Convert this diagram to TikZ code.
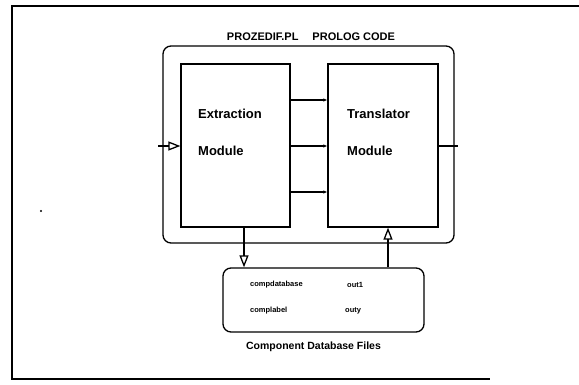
\documentclass[tikz,border=0pt]{standalone}
\usepackage{fontspec}
\setmainfont{Liberation Sans}
\usetikzlibrary{arrows.meta}
\tikzset{
  ln/.style={line width=1.3pt, black},
  box/.style={ln, draw, rectangle, inner sep=0pt},
  rbox/.style={box, rounded corners=8pt},
  lbl/.style={font=\bfseries\fontsize{13}{14}\selectfont, anchor=west, inner sep=0pt},
  small/.style={font=\bfseries\fontsize{7.5}{8}\selectfont, anchor=west, inner sep=0pt},
  arr/.style={ln, -{Latex[length=4pt,width=3.5pt]}},
  openarr/.style={ln, -{Triangle[open,length=12pt,width=9pt]}}
}
\begin{document}
\begin{tikzpicture}[x=1pt,y=-1pt]
\useasboundingbox (0,0) rectangle (579,385);
% outer frame
\draw[line width=1.3pt] (579,6) -- (12,6) -- (12,379) -- (490,379);
\fill (41,211) circle (1.1);
% main boxes
\node[rbox, minimum width=291pt, minimum height=197pt] (big) at (308.5,144.5) {};
\node[font=\bfseries\fontsize{11}{12}\selectfont, inner sep=0pt] (title) at (311,37) {PROZEDIF.PL\hspace{14pt}PROLOG CODE};
\node[box, minimum width=109pt, minimum height=163pt] (ext) at (235.5,145.5) {};
\node[box, minimum width=110pt, minimum height=163pt] (trans) at (383,145.5) {};
\node[lbl] (extA) at (198,114) {Extraction};
\node[lbl] (extB) at (198,151) {Module};
\node[lbl] (trA) at (347,114) {Translator};
\node[lbl] (trB) at (347,151) {Module};
% database box
\node[rbox, minimum width=201pt, minimum height=64pt] (db) at (323.5,300) {};
\node[small] (f1) at (250,285) {compdatabase};
\node[small] (f2) at (347,285) {out1};
\node[small] (f3) at (250,311) {complabel};
\node[small] (f4) at (345,311) {outy};
\node[font=\bfseries\fontsize{10.5}{12}\selectfont, inner sep=0pt] (cap) at (313.5,347) {Component Database Files};
% connectors
\coordinate (r1) at (0,100);
\coordinate (r2) at (0,146);
\coordinate (r3) at (0,192);
\draw[arr] (ext.east |- r1) -- (trans.west |- r1);
\draw[arr] (ext.east |- r2) -- (trans.west |- r2);
\draw[arr] (ext.east |- r3) -- (trans.west |- r3);
\coordinate (in) at (158,146);
\coordinate (out) at (458,146);
\draw[openarr] (in) -- (ext.west |- in);
\draw[ln] (trans.east |- out) -- (out);
\draw[openarr] ([xshift=8.5pt]ext.south) -- ([xshift=8.5pt]ext.south |- db.north);
\draw[openarr] ([xshift=5pt]trans.south |- db.north) -- ([xshift=5pt]trans.south);
\end{tikzpicture}
\end{document}
